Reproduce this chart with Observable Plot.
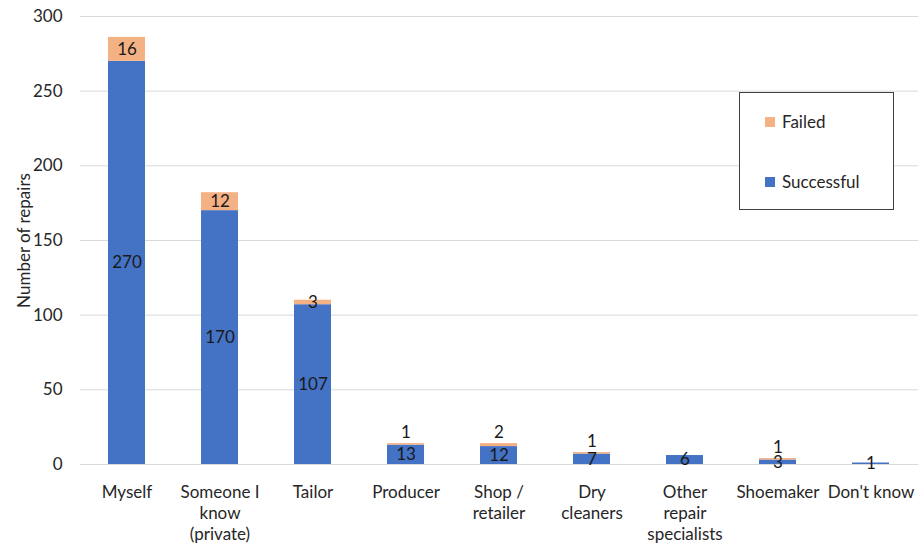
<!DOCTYPE html>
<html>
<head>
<meta charset="utf-8">
<script src="https://cdn.jsdelivr.net/npm/d3@7"></script>
<script src="https://cdn.jsdelivr.net/npm/@observablehq/plot@0.6"></script>
<style>
  html, body { margin: 0; padding: 0; background: #fff; }
  #wrap { position: relative; width: 918px; height: 548px; font-family: Lato, "Open Sans", sans-serif; }
  #legend { position: absolute; left: 739px; top: 92px; width: 153px; height: 116px; border: 1.5px solid #404040; background: #fff; }
  .item { position: absolute; left: 25px; display: flex; align-items: center; font-size: 17px; color: #262626; }
  .sw { width: 10px; height: 10px; margin-right: 7px; }
</style>
</head>
<body>
<div id="wrap">
  <div id="chart"></div>
  <div id="legend">
    <div class="item" style="top:18px"><span class="sw" style="background:#F4B183"></span>Failed</div>
    <div class="item" style="top:78px"><span class="sw" style="background:#4472C4"></span>Successful</div>
  </div>
</div>
<script>
const categories = ["Myself", "Someone I know (private)", "Tailor", "Producer", "Shop / retailer", "Dry cleaners", "Other repair specialists", "Shoemaker", "Don't know"];
const tickLabels = ["Myself", "Someone I\nknow\n(private)", "Tailor", "Producer", "Shop /\nretailer", "Dry\ncleaners", "Other\nrepair\nspecialists", "Shoemaker", "Don't know"];
const successful = [270, 170, 107, 13, 12, 7, 6, 3, 1];
const failed = [16, 12, 3, 1, 2, 1, 0, 1, 0];
const yTicks = [0, 50, 100, 150, 200, 250, 300];

const long = [];
categories.forEach((c, i) => {
  long.push({cat: c, status: "Successful", value: successful[i]});
  long.push({cat: c, status: "Failed", value: failed[i]});
});

const sLabels = categories.map((c, i) => ({cat: c, y: successful[i] / 2, text: String(successful[i])}));
const fBig = categories.map((c, i) => ({cat: c, y: successful[i] + failed[i] / 2, text: String(failed[i]), total: successful[i] + failed[i], f: failed[i]}))
  .filter(d => d.f > 0 && d.total >= 50);
const fSmall = categories.map((c, i) => ({cat: c, y: successful[i] + failed[i], text: String(failed[i]), total: successful[i] + failed[i], f: failed[i]}))
  .filter(d => d.f > 0 && d.total < 50);

const labelMap = new Map(categories.map((c, i) => [c, tickLabels[i]]));

const chart = Plot.plot({
  width: 918,
  height: 548,
  marginLeft: 80,
  marginRight: 0,
  marginTop: 16,
  marginBottom: 84,
  style: {fontFamily: "Lato, 'Open Sans', sans-serif", fontSize: "16px", color: "#262626", background: "#fff"},
  x: {domain: categories, paddingInner: 0.6, paddingOuter: 0.3, label: null},
  y: {domain: [0, 300], label: null},
  color: {domain: ["Successful", "Failed"], range: ["#4472C4", "#F4B183"]},
  marks: [
    Plot.gridY(yTicks, {stroke: "#d9d9d9", strokeOpacity: 1, strokeWidth: 1}),
    Plot.axisY(yTicks, {tickSize: 0, tickPadding: 18, fontSize: 17, label: "Number of repairs", labelAnchor: "center", labelOffset: 63, labelArrow: "none"}),
    Plot.axisX({tickSize: 0, tickPadding: 18, fontSize: 17, lineHeight: 1.25, tickFormat: d => labelMap.get(d), label: null}),
    Plot.barY(long, Plot.stackY({x: "cat", y: "value", fill: "status", order: ["Successful", "Failed"]})),
    Plot.text(sLabels, {x: "cat", y: "y", text: "text", fill: "#1a1a1a", fontSize: 17}),
    Plot.text(fBig, {x: "cat", y: "y", text: "text", fill: "#1a1a1a", fontSize: 17}),
    Plot.text(fSmall, {x: "cat", y: "y", text: "text", fill: "#1a1a1a", fontSize: 17, dy: -11})
  ]
});
document.getElementById("chart").appendChild(chart);
</script>
</body>
</html>
